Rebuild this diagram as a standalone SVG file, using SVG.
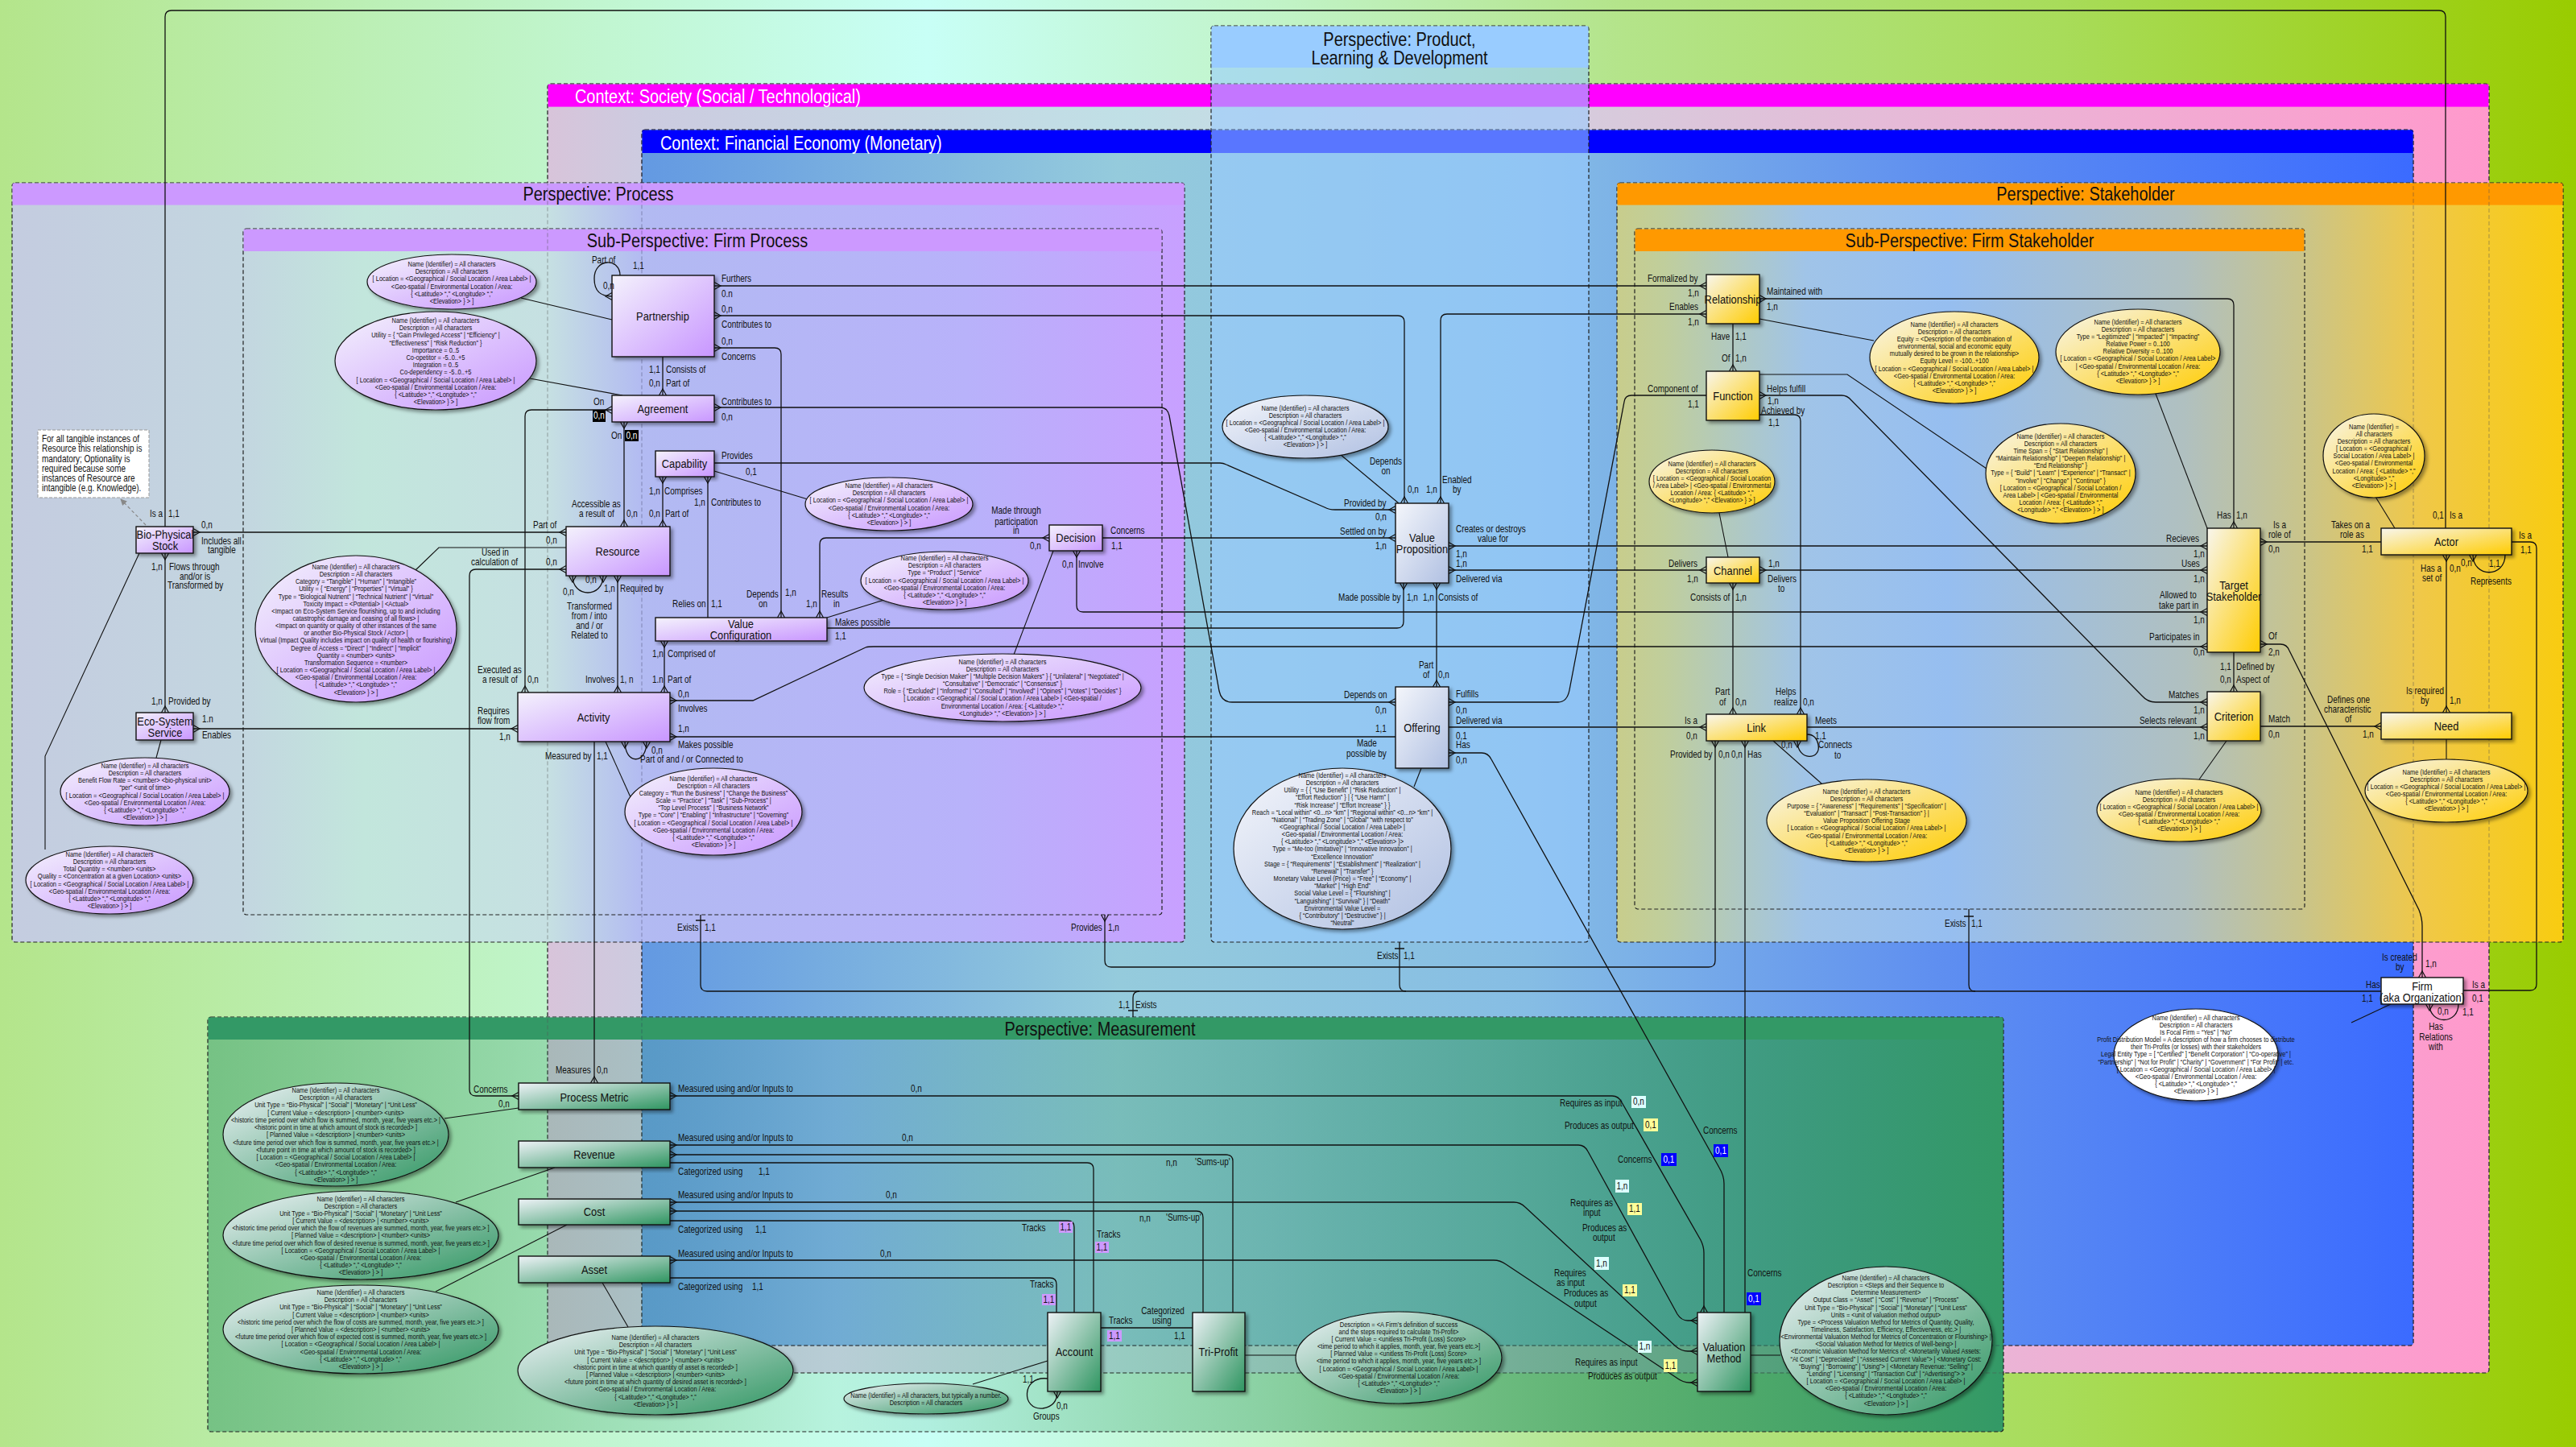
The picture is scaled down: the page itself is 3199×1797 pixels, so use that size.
<svg xmlns="http://www.w3.org/2000/svg" width="3199" height="1797" viewBox="0 0 3199 1797">
<defs>
<linearGradient id="bg" x1="0" y1="0" x2="1" y2="0"><stop offset="0" stop-color="#b4e58b"/><stop offset="0.36" stop-color="#c8fff6"/><stop offset="0.5" stop-color="#c1f3c6"/><stop offset="0.63" stop-color="#b4e48a"/><stop offset="0.8" stop-color="#a8dc5a"/><stop offset="1" stop-color="#99cc00"/></linearGradient>
<linearGradient id="gsoc" x1="0" y1="0" x2="1" y2="0"><stop offset="0" stop-color="#d8c4da"/><stop offset="0.05" stop-color="#cccbe0"/><stop offset="0.3" stop-color="#c0e0e6"/><stop offset="0.55" stop-color="#d8cadc"/><stop offset="0.75" stop-color="#ebb4d6"/><stop offset="1" stop-color="#ff99cc"/></linearGradient>
<linearGradient id="gfin" x1="0" y1="0" x2="1" y2="0"><stop offset="0" stop-color="#6399e2"/><stop offset="0.27" stop-color="#95cbdc"/><stop offset="0.5" stop-color="#86bde4"/><stop offset="0.73" stop-color="#5f8ff0"/><stop offset="1" stop-color="#3b6bff"/></linearGradient>
<linearGradient id="gproc" x1="0" y1="0" x2="1" y2="0"><stop offset="0" stop-color="#c4cce0"/><stop offset="0.196" stop-color="#c3d6e0"/><stop offset="0.3" stop-color="#c2e6dc"/><stop offset="0.457" stop-color="#c6e0e2"/><stop offset="0.539" stop-color="#b2baf2"/><stop offset="0.814" stop-color="#b8b2fa"/><stop offset="1" stop-color="#c8a0ff"/></linearGradient>
<linearGradient id="gstk" x1="0" y1="0" x2="1" y2="0"><stop offset="0" stop-color="#c8cd8c"/><stop offset="0.05" stop-color="#c0ce9c"/><stop offset="0.2" stop-color="#a0c4e8"/><stop offset="0.35" stop-color="#96bef0"/><stop offset="0.6" stop-color="#b0c0c0"/><stop offset="0.72" stop-color="#c8c48c"/><stop offset="0.85" stop-color="#f0c848"/><stop offset="1" stop-color="#f8cc10"/></linearGradient>
<linearGradient id="gmeas" x1="0" y1="0" x2="1" y2="0"><stop offset="0" stop-color="#339966" stop-opacity="0.5"/><stop offset="0.35" stop-color="#339966" stop-opacity="0.1"/><stop offset="0.6" stop-color="#339966" stop-opacity="0.4"/><stop offset="1" stop-color="#339966" stop-opacity="1"/></linearGradient>
<linearGradient id="nP" x1="0" y1="0" x2="1" y2="1"><stop offset="0" stop-color="#f4f2fc"/><stop offset="1" stop-color="#c896ff"/></linearGradient>
<linearGradient id="nB" x1="0" y1="0" x2="1" y2="1"><stop offset="0" stop-color="#f4f6fb"/><stop offset="1" stop-color="#b0c0e2"/></linearGradient>
<linearGradient id="nY" x1="0" y1="0" x2="1" y2="1"><stop offset="0" stop-color="#f8f6ee"/><stop offset="1" stop-color="#ffcc00"/></linearGradient>
<linearGradient id="nG" x1="0" y1="0" x2="1" y2="1"><stop offset="0" stop-color="#eef2f7"/><stop offset="1" stop-color="#2e9560"/></linearGradient>
<filter id="sh" x="-10%" y="-10%" width="130%" height="130%"><feDropShadow dx="3" dy="3" stdDeviation="2" flood-color="#000" flood-opacity="0.4"/></filter>
<marker id="cf" viewBox="-10 -6 12 12" refX="0" refY="0" markerWidth="12" markerHeight="12" markerUnits="userSpaceOnUse" orient="auto-start-reverse"><path d="M0,-4.5 L-8,0 L0,4.5" fill="none" stroke="#111" stroke-width="1.2"/></marker>
<marker id="ar" viewBox="0 0 10 10" refX="9" refY="5" markerWidth="8" markerHeight="8" markerUnits="userSpaceOnUse" orient="auto"><path d="M0,0 L10,5 L0,10 z" fill="#888"/></marker>
</defs>
<style>
text{font-family:"Liberation Sans",Arial,sans-serif;transform-box:fill-box;transform-origin:0 50%;transform:scaleX(0.83);}
text.m,text[text-anchor="middle"],.nt,.et,.bd text{transform-origin:50% 50%;}
.box{stroke:#222;stroke-width:1.2;stroke-dasharray:5 3;}
.hd{font-size:24px;}
.c{fill:none;stroke:#111;stroke-width:1.3;}
.s{marker-start:url(#cf);}
.e{marker-end:url(#cf);}
.ec{fill:none;stroke:#111;stroke-width:1.1;}
.n rect,.n ellipse{stroke:#111;stroke-width:1.4;filter:url(#sh);}
.at ellipse{stroke:#111;stroke-width:1.2;filter:url(#sh);}
.nt{font-size:15.5px;text-anchor:middle;fill:#111;}
.et{font-size:9px;text-anchor:middle;fill:#111;}
.lb text{font-size:12px;fill:#111;}
.m{text-anchor:middle;}
.bd text{font-size:12px;text-anchor:middle;}
</style>
<rect width="3199" height="1797" fill="url(#bg)"/>

<g id="containers">
<g id="ctx-society"><rect x="680" y="104" width="2411" height="1601" rx="4" fill="url(#gsoc)" class="box"/><rect x="680.6" y="104.6" width="2409.8" height="28" fill="#ff00ff"/><text x="714" y="128" class="hd" fill="#fff">Context: Society (Social / Technological)</text></g>
<g id="ctx-financial"><rect x="797" y="161" width="2200" height="1510" rx="4" fill="url(#gfin)" class="box"/><rect x="797.6" y="161.6" width="2198.8" height="28.4" fill="#0000ff"/><text x="820" y="186" class="hd" fill="#fff">Context: Financial Economy (Monetary)</text></g>
<g id="persp-process"><rect x="15" y="227" width="1456" height="943" rx="4" fill="url(#gproc)" class="box"/><rect x="15.6" y="227.6" width="1454.8" height="27" fill="#cc99ff"/><text x="743" y="249" class="hd m" fill="#111">Perspective: Process</text></g>
<g id="subpersp-process"><rect x="302" y="284" width="1141" height="852" rx="4" fill="none" class="box"/><rect x="302.6" y="284.6" width="1139.8" height="27.4" fill="#cc99ff"/><text x="866" y="307" class="hd m" fill="#111">Sub-Perspective:  Firm Process</text></g>
<g id="persp-stakeholder"><rect x="2008" y="227" width="1175" height="943" rx="4" fill="url(#gstk)" class="box"/><rect x="2008.6" y="227.6" width="1173.8" height="27" fill="#ff9900"/><text x="2590" y="249" class="hd m" fill="#111">Perspective: Stakeholder</text></g>
<g id="subpersp-stakeholder"><rect x="2030" y="284" width="832" height="845" rx="4" fill="none" class="box"/><rect x="2030.6" y="284.6" width="830.8" height="27.4" fill="#ff9900"/><text x="2446" y="307" class="hd m" fill="#111">Sub-Perspective:  Firm Stakeholder</text></g>
<g id="persp-product"><rect x="1504" y="32" width="469" height="1138" rx="4" fill="#99ccff" fill-opacity="0.58" class="box"/><rect x="1504.6" y="32.6" width="467.8" height="51.4" fill="#99ccff"/><text x="1738" y="57" class="hd m" fill="#111">Perspective: Product,</text><text x="1738" y="80" class="hd m" fill="#111">Learning &amp; Development</text></g>
<g id="persp-measurement"><rect x="258" y="1263" width="2230" height="515" rx="4" fill="url(#gmeas)" class="box"/><rect x="258.6" y="1263.6" width="2228.8" height="27.4" fill="#339966"/><text x="1366" y="1286" class="hd m" fill="#111">Perspective: Measurement</text></g>
<rect x="680" y="104" width="2411" height="1601" rx="4" fill="none" stroke="#555" stroke-opacity="0.5" stroke-width="1" stroke-dasharray="5 3"/>
<rect x="797" y="161" width="2200" height="1510" rx="4" fill="none" stroke="#335" stroke-opacity="0.4" stroke-width="1" stroke-dasharray="5 3"/>
</g>

<g id="note"><rect x="47" y="534" width="138" height="84" fill="#fff" stroke="#999" stroke-width="1" stroke-dasharray="4 2"/>
<text x="52" y="549" font-size="12" fill="#111"><tspan x="52">For all tangible instances of</tspan><tspan x="52" dy="12.3">Resource  this relationship is</tspan><tspan x="52" dy="12.3">mandatory;  Optionality is</tspan><tspan x="52" dy="12.3">required because some</tspan><tspan x="52" dy="12.3">instances of Resource are</tspan><tspan x="52" dy="12.3">intangible (e.g. Knowledge).</tspan></text></g>

<g id="connectors">
<path class="c s e" d="M887,355 H2119"/>
<path class="c s e" d="M887,392 H1736 Q1744,392 1744,400 V625"/>
<path class="c s e" d="M887,432 H962 Q970,432 970,440 V767"/>
<path class="c e" d="M770,342 C770,320 738,320 738,346 C738,364 748,368 760,368"/>
<path class="c e" d="M823,443 V491"/>
<path class="c s e" d="M887,506 H1440 Q1450,506 1452,516 L1514,858 Q1517,872 1530,872 H1733"/>
<path class="c s e" d="M760,509 H660 Q652,509 652,517 V860"/>
<path class="c s e" d="M775,524 V654"/>
<path class="c e" d="M887,575 H1515 Q1519,575 1523,577 L1645,630 Q1650,633 1658,633 H1733"/>
<path class="c s e" d="M823,592 V654"/>
<path class="c s" d="M879,592 V767"/>
<path class="c s e" d="M1018,767 V676 Q1018,668 1026,668 H1303"/>
<path class="c e" d="M1027,780 H1735 Q1743,780 1743,772 V724"/>
<path class="c s e" d="M825,796 V860"/>
<path class="c e" d="M1369,668 H1733"/>
<path class="c s e" d="M1337,684 V752 Q1337,760 1345,760 H2741"/>
<path class="c s e" d="M832,870 H935 L1075,804 Q1078,803 1085,803 H2741"/>
<path class="c s" d="M832,915 H1733"/>
<path class="c s e" d="M776,921 C776,950 803,950 803,921"/>
<path class="c s e" d="M711,715 C711,743 749,743 749,715"/>
<path class="c s e" d="M767,715 V860"/>
<path class="c s e" d="M703,707 H591 Q583,707 583,715 V1353 Q583,1361 591,1361 H644"/>
<path class="c s e" d="M240,661 H703"/>
<path class="c s e" d="M205,687 V885"/>
<path class="c s e" d="M240,905 H643"/>
<path class="c e" d="M738,921 V1345"/>
<path class="c" d="M205,654 V21 Q205,13 213,13 H3029 Q3037,13 3037,21 V656"/>
<path class="c" d="M3119,673 H3142 Q3150,673 3150,681 V1222 Q3150,1230 3142,1230 H3059"/>
<path class="c e" d="M2957,673 H2807"/>
<path class="c s e" d="M3038,689 V885"/>
<path class="c s" d="M3071,689 C3071,718 3111,718 3111,689"/>
<path class="c s e" d="M2774,656 V379 Q2774,371 2766,371 H2185"/>
<path class="c e" d="M2774,810 V859"/>
<path class="c s e" d="M2807,800 H2832 Q2840,800 2843,808 L3004,1130 Q3008,1140 3008,1150 V1214"/>
<path class="c e" d="M2807,902 H2957"/>
<path class="c s e" d="M1799,678 H2741"/>
<path class="c s e" d="M1799,708 H2119"/>
<path class="c s e" d="M2185,708 H2741"/>
<path class="c s e" d="M2152,724 V887"/>
<path class="c s e" d="M2119,390 H1797 Q1789,390 1789,398 V625"/>
<path class="c e" d="M2152,402 V461"/>
<path class="c e" d="M2119,491 H2026 Q2018,491 2017,499 L1949,857 Q1946,872 1935,872 H1799"/>
<path class="c s e" d="M2185,491 H2287 Q2294,491 2299,497 L2660,864 Q2667,872 2677,872 H2741"/>
<path class="c e" d="M2185,515 H2228 Q2236,515 2236,523 V887"/>
<path class="c e" d="M2244,903 H2741"/>
<path class="c s" d="M2232,920 C2232,946 2262,944 2258,925 C2256,914 2250,912 2244,912"/>
<path class="c e" d="M1799,903 H2119"/>
<path class="c s" d="M1799,935 H1840 Q1848,935 1852,943 L2135,1450 Q2141,1460 2141,1470 V1630"/>
<path class="c s e" d="M1784,724 V853"/>
<path class="c s" d="M2167,920 V1630"/>
<path class="c s e" d="M2130,920 V1193 Q2130,1201 2122,1201 H1380 Q1372,1201 1372,1193 V1136"/>
<path class="c" d="M870,1136 V1223 Q870,1231 878,1231 H2957"/>
<path class="c" d="M1738,1170 V1223 Q1738,1231 1746,1231"/>
<path class="c" d="M2445,1129 V1223 Q2445,1231 2453,1231"/>
<path class="c" d="M1407,1263 V1239 Q1407,1231 1415,1231"/>
<path class="c" d="M864,1143 H876 M1732,1178 H1744 M2439,1138 H2451 M1401,1255 H1413"/>
<path class="c s" d="M3017,1247 C3017,1273 3053,1273 3053,1247"/>
<path class="c s e" d="M832,1361 H2002 Q2010,1361 2014,1369 L2112,1540 Q2116,1548 2116,1556 V1630"/>
<path class="c s e" d="M832,1422 H1960 Q1968,1422 1972,1430 L2083,1632 Q2088,1640 2096,1640 H2108"/>
<path class="c s" d="M832,1434 H1523 Q1531,1434 1531,1442 V1630"/>
<path class="c" d="M832,1444 H1350 Q1358,1444 1358,1452 V1630"/>
<path class="c s e" d="M832,1493 H1880 Q1888,1493 1894,1499 L2081,1672 Q2088,1678 2096,1678 H2108"/>
<path class="c s" d="M832,1504 H1486 Q1494,1504 1494,1512 V1630"/>
<path class="c" d="M832,1516 H1326 Q1334,1516 1334,1524 V1630"/>
<path class="c s e" d="M832,1565 H1855 Q1863,1565 1870,1570 L2082,1711 Q2090,1717 2098,1717 H2108"/>
<path class="c" d="M832,1587 H1304 Q1312,1587 1312,1595 V1630"/>
<path class="c" d="M1367,1649 H1481"/>
<path class="c e" d="M1301,1712 C1268,1708 1268,1752 1295,1749 C1308,1747 1313,1740 1313,1728"/>
<path d="M181,652 L150,620" fill="none" stroke="#888" stroke-width="1.2" stroke-dasharray="4 3" marker-end="url(#ar)"/>
<g id="attr-links">
<path class="ec" d="M647,370 L760,397"/>
<path class="ec" d="M658,470 L773,491"/>
<path class="ec" d="M887,585 L1003,620"/>
<path class="ec" d="M1098,745 L1027,767"/>
<path class="ec" d="M1308,684 L1259,813"/>
<path class="ec" d="M516,708 L545,680 H703"/>
<path class="ec" d="M173,687 L56,939 V1055"/>
<path class="ec" d="M200,919 L194,941"/>
<path class="ec" d="M752,921 L783,990"/>
<path class="ec" d="M1664,564 L1737,625"/>
<path class="ec" d="M2185,396 L2327,423"/>
<path class="ec" d="M2677,489 L2741,656"/>
<path class="ec" d="M2185,465 H2294 L2470,584"/>
<path class="ec" d="M2135,637 L2146,692"/>
<path class="ec" d="M2202,920 L2262,973"/>
<path class="ec" d="M2765,920 L2731,968"/>
<path class="ec" d="M3038,918 V944"/>
<path class="ec" d="M2950,617 L2974,656"/>
<path class="ec" d="M2920,1270 L2969,1247"/>
<path class="ec" d="M552,1389 L644,1376"/>
<path class="ec" d="M566,1493 L689,1450"/>
<path class="ec" d="M541,1604 L704,1521"/>
<path class="ec" d="M748,1593 L780,1648"/>
<path class="ec" d="M1208,1719 L1301,1690"/>
<path class="ec" d="M1546,1683 H1609"/>
<path class="ec" d="M2174,1683 H2211"/>
<path class="ec" d="M1765,954 L1756,977"/>
</g>
</g>

<g id="attributes" class="at">
<g id="attr-partnership"><ellipse cx="561" cy="350" rx="105" ry="34" fill="url(#nP)"/><text class="et" y="331"><tspan x="561">Name (Identifier) = All characters</tspan><tspan x="561" dy="9.2">Description = All characters</tspan><tspan x="561" dy="9.2">[ Location = &lt;Geographical / Social Location / Area Label&gt; |</tspan><tspan x="561" dy="9.2">&lt;Geo-spatial / Environmental Location / Area:</tspan><tspan x="561" dy="9.2">{ &lt;Latitude&gt; “,” &lt;Longitude&gt; “,”</tspan><tspan x="561" dy="9.2">&lt;Elevation&gt; } &gt; ]</tspan></text></g>
<g id="attr-agreement"><ellipse cx="541" cy="448" rx="125" ry="61" fill="url(#nP)"/><text class="et" y="401"><tspan x="541">Name (Identifier) = All characters</tspan><tspan x="541" dy="9.2">Description = All characters</tspan><tspan x="541" dy="9.2">Utility = { “Gain Privileged Access” | “Efficiency” |</tspan><tspan x="541" dy="9.2">“Effectiveness” | “Risk Reduction” }</tspan><tspan x="541" dy="9.2">Importance = 0..5</tspan><tspan x="541" dy="9.2">Co-opetitor = -5..0..+5</tspan><tspan x="541" dy="9.2">Integration = 0..5</tspan><tspan x="541" dy="9.2">Co-dependency = -5..0..+5</tspan><tspan x="541" dy="9.2">[ Location = &lt;Geographical / Social Location / Area Label&gt; |</tspan><tspan x="541" dy="9.2">&lt;Geo-spatial / Environmental Location / Area:</tspan><tspan x="541" dy="9.2">{ &lt;Latitude&gt; “,” &lt;Longitude&gt; “,”</tspan><tspan x="541" dy="9.2">&lt;Elevation&gt; } &gt; ]</tspan></text></g>
<g id="attr-capability"><ellipse cx="1104" cy="626" rx="104" ry="33" fill="url(#nP)"/><text class="et" y="606"><tspan x="1104">Name (Identifier) = All characters</tspan><tspan x="1104" dy="9.2">Description = All characters</tspan><tspan x="1104" dy="9.2">[ Location = &lt;Geographical / Social Location / Area Label&gt; |</tspan><tspan x="1104" dy="9.2">&lt;Geo-spatial / Environmental Location / Area:</tspan><tspan x="1104" dy="9.2">{ &lt;Latitude&gt; “,” &lt;Longitude&gt; “,”</tspan><tspan x="1104" dy="9.2">&lt;Elevation&gt; } &gt; ]</tspan></text></g>
<g id="attr-valueconfig"><ellipse cx="1173" cy="721" rx="104" ry="36" fill="url(#nP)"/><text class="et" y="696"><tspan x="1173">Name (Identifier) = All characters</tspan><tspan x="1173" dy="9.2">Description = All characters</tspan><tspan x="1173" dy="9.2">Type = “Product” | “Service”</tspan><tspan x="1173" dy="9.2">[ Location = &lt;Geographical / Social Location / Area Label&gt; |</tspan><tspan x="1173" dy="9.2">&lt;Geo-spatial / Environmental Location / Area:</tspan><tspan x="1173" dy="9.2">{ &lt;Latitude&gt; “,” &lt;Longitude&gt; “,”</tspan><tspan x="1173" dy="9.2">&lt;Elevation&gt; } &gt; ]</tspan></text></g>
<g id="attr-decision"><ellipse cx="1245" cy="854" rx="172" ry="42" fill="url(#nP)"/><text class="et" y="825"><tspan x="1245">Name (Identifier) = All characters</tspan><tspan x="1245" dy="9.1">Description = All characters</tspan><tspan x="1245" dy="9.1">Type = { “Single Decision Maker” | “Multiple Decision Makers” } { “Unilateral” | “Negotiated” |</tspan><tspan x="1245" dy="9.1">“Consultative” | “Democratic” | “Consensus” }</tspan><tspan x="1245" dy="9.1">Role = { “Excluded” | “Informed” | “Consulted” | “Involved” | “Opines” | “Votes” | “Decides” }</tspan><tspan x="1245" dy="9.1">[ Location = &lt;Geographical / Social Location / Area Label&gt; | &lt;Geo-spatial /</tspan><tspan x="1245" dy="9.1">Environmental Location / Area: { &lt;Latitude&gt; “,”</tspan><tspan x="1245" dy="9.1">&lt;Longitude&gt; “,” &lt;Elevation&gt; } &gt; ]</tspan></text></g>
<g id="attr-resource"><ellipse cx="442" cy="781" rx="125" ry="91" fill="url(#nP)"/><text class="et" y="707"><tspan x="442">Name (Identifier) = All characters</tspan><tspan x="442" dy="9.15">Description = All characters</tspan><tspan x="442" dy="9.15">Category = “Tangible” | “Human” | “Intangible”</tspan><tspan x="442" dy="9.15">Utility = { “Energy” | “Properties” | “Virtual” }</tspan><tspan x="442" dy="9.15">Type = “Biological Nutrient” | “Technical Nutrient”  | “Virtual”</tspan><tspan x="442" dy="9.15">Toxicity Impact = &lt;Potential&gt; | &lt;Actual&gt;</tspan><tspan x="442" dy="9.15">&lt;Impact on Eco-System Service flourishing, up to and including</tspan><tspan x="442" dy="9.15">catastrophic damage and ceasing of all flows&gt; |</tspan><tspan x="442" dy="9.15">&lt;Impact on quantity or quality of other instances of the same</tspan><tspan x="442" dy="9.15">or another Bio-Physical Stock / Actor&gt; |</tspan><tspan x="442" dy="9.15">Virtual (Impact Quality includes impact on quality of health or flourishing)</tspan><tspan x="442" dy="9.15">Degree of Access = “Direct” | “Indirect” | “Implicit”</tspan><tspan x="442" dy="9.15">Quantity =  &lt;number&gt; &lt;units&gt;</tspan><tspan x="442" dy="9.15">Transformation Sequence = &lt;number&gt;</tspan><tspan x="442" dy="9.15">[ Location = &lt;Geographical / Social Location / Area Label&gt; |</tspan><tspan x="442" dy="9.15">&lt;Geo-spatial / Environmental Location / Area:</tspan><tspan x="442" dy="9.15">{ &lt;Latitude&gt; “,” &lt;Longitude&gt; “,”</tspan><tspan x="442" dy="9.15">&lt;Elevation&gt; } &gt; ]</tspan></text></g>
<g id="attr-biophysical"><ellipse cx="136" cy="1093" rx="104" ry="42" fill="url(#nP)"/><text class="et" y="1064"><tspan x="136">Name (Identifier) = All characters</tspan><tspan x="136" dy="9.15">Description = All characters</tspan><tspan x="136" dy="9.15">Total Quantity = &lt;number&gt; &lt;units&gt;</tspan><tspan x="136" dy="9.15">Quality = &lt;Concentration at a given Location&gt; &lt;units&gt;</tspan><tspan x="136" dy="9.15">[ Location = &lt;Geographical / Social Location / Area Label&gt; |</tspan><tspan x="136" dy="9.15">&lt;Geo-spatial / Environmental Location / Area:</tspan><tspan x="136" dy="9.15">{ &lt;Latitude&gt; “,” &lt;Longitude&gt; “,”</tspan><tspan x="136" dy="9.15">&lt;Elevation&gt; } &gt; ]</tspan></text></g>
<g id="attr-ecosystem"><ellipse cx="180" cy="983" rx="105" ry="42" fill="url(#nP)"/><text class="et" y="954"><tspan x="180">Name (Identifier) = All characters</tspan><tspan x="180" dy="9.15">Description = All characters</tspan><tspan x="180" dy="9.15">Benefit Flow Rate = &lt;number&gt; &lt;bio-physical unit&gt;</tspan><tspan x="180" dy="9.15">“per” &lt;unit of time&gt;</tspan><tspan x="180" dy="9.15">[ Location = &lt;Geographical / Social Location / Area Label&gt; |</tspan><tspan x="180" dy="9.15">&lt;Geo-spatial / Environmental Location / Area:</tspan><tspan x="180" dy="9.15">{ &lt;Latitude&gt; “,” &lt;Longitude&gt; “,”</tspan><tspan x="180" dy="9.15">&lt;Elevation&gt; } &gt; ]</tspan></text></g>
<g id="attr-activity"><ellipse cx="886" cy="1008" rx="110" ry="54" fill="url(#nP)"/><text class="et" y="970"><tspan x="886">Name (Identifier) = All characters</tspan><tspan x="886" dy="9.1">Description = All characters</tspan><tspan x="886" dy="9.1">Category = “Run the Business” | “Change the Business”</tspan><tspan x="886" dy="9.1">Scale = “Practice” | “Task” | “Sub-Process” |</tspan><tspan x="886" dy="9.1">“Top Level Process” | “Business Network”</tspan><tspan x="886" dy="9.1">Type = “Core” | “Enabling” | “Infrastructure” | “Governing”</tspan><tspan x="886" dy="9.1">[ Location = &lt;Geographical / Social Location / Area Label&gt; |</tspan><tspan x="886" dy="9.1">&lt;Geo-spatial / Environmental Location / Area:</tspan><tspan x="886" dy="9.1">{ &lt;Latitude&gt; “,” &lt;Longitude&gt; “,”</tspan><tspan x="886" dy="9.1">&lt;Elevation&gt; } &gt; ]</tspan></text></g>
<g id="attr-valueprop"><ellipse cx="1621" cy="530" rx="103" ry="39" fill="url(#nB)"/><text class="et" y="510"><tspan x="1621">Name (Identifier) = All characters</tspan><tspan x="1621" dy="9.1">Description = All characters</tspan><tspan x="1621" dy="9.1">[ Location = &lt;Geographical / Social Location / Area Label&gt; |</tspan><tspan x="1621" dy="9.1">&lt;Geo-spatial / Environmental Location / Area:</tspan><tspan x="1621" dy="9.1">{ &lt;Latitude&gt; “,” &lt;Longitude&gt; “,”</tspan><tspan x="1621" dy="9.1">&lt;Elevation&gt; } &gt; ]</tspan></text></g>
<g id="attr-offering"><ellipse cx="1667" cy="1054" rx="135" ry="100" fill="url(#nB)"/><text class="et" y="966"><tspan x="1667">Name (Identifier) = All characters</tspan><tspan x="1667" dy="9.15">Description = All characters</tspan><tspan x="1667" dy="9.15">Utility = { { “Use Benefit” | “Risk Reduction” |</tspan><tspan x="1667" dy="9.15">“Effort Reduction” } | { “Use Harm” |</tspan><tspan x="1667" dy="9.15">“Risk Increase” | “Effort Increase” } }</tspan><tspan x="1667" dy="9.15">Reach = “Local within” &lt;0...n&gt; “km” | “Regional within” &lt;0...n&gt; “km” |</tspan><tspan x="1667" dy="9.15">“National” | “Trading Zone” | “Global” “with respect to”</tspan><tspan x="1667" dy="9.15">&lt;Geographical / Social Location / Area Label&gt; |</tspan><tspan x="1667" dy="9.15">&lt;Geo-spatial / Environmental Location / Area:</tspan><tspan x="1667" dy="9.15">{ &lt;Latitude&gt; “,” &lt;Longitude&gt; “,” &lt;Elevation&gt; }&gt;</tspan><tspan x="1667" dy="9.15">Type = “Me-too (Imitative)” | “Innovative Innovation” |</tspan><tspan x="1667" dy="9.15">“Excellence Innovation”</tspan><tspan x="1667" dy="9.15">Stage = { “Requirements” | “Establishment” | “Realization” |</tspan><tspan x="1667" dy="9.15">“Renewal” | “Transfer” }</tspan><tspan x="1667" dy="9.15">Monetary Value Level (Price) = “Free” | “Economy” |</tspan><tspan x="1667" dy="9.15">“Market” | “High End”</tspan><tspan x="1667" dy="9.15">Social Value Level = { “Flourishing” |</tspan><tspan x="1667" dy="9.15">“Languishing” | “Survival” } | “Death”</tspan><tspan x="1667" dy="9.15">Environmental Value Level =</tspan><tspan x="1667" dy="9.15">{ “Contributory” |  “Destructive” } |</tspan><tspan x="1667" dy="9.15">“Neutral”</tspan></text></g>
<g id="attr-relationship"><ellipse cx="2427" cy="444" rx="105" ry="57" fill="url(#nY)"/><text class="et" y="406"><tspan x="2427">Name (Identifier) = All characters</tspan><tspan x="2427" dy="9.1">Description = All characters</tspan><tspan x="2427" dy="9.1">Equity = &lt;Description of the combination of</tspan><tspan x="2427" dy="9.1">environmental, social and economic equity</tspan><tspan x="2427" dy="9.1">mutually desired to be grown in the relationship&gt;</tspan><tspan x="2427" dy="9.1">Equity Level = -100..+100</tspan><tspan x="2427" dy="9.1">[ Location = &lt;Geographical / Social Location / Area Label&gt; |</tspan><tspan x="2427" dy="9.1">&lt;Geo-spatial / Environmental Location / Area:</tspan><tspan x="2427" dy="9.1">{ &lt;Latitude&gt; “,” &lt;Longitude&gt; “,”</tspan><tspan x="2427" dy="9.1">&lt;Elevation&gt; } &gt; ]</tspan></text></g>
<g id="attr-targetstakeholder"><ellipse cx="2655" cy="437" rx="102" ry="53" fill="url(#nY)"/><text class="et" y="403"><tspan x="2655">Name (Identifier) = All characters</tspan><tspan x="2655" dy="9.1">Description = All characters</tspan><tspan x="2655" dy="9.1">Type = “Legitimized” | “Impacted” | “Impacting”</tspan><tspan x="2655" dy="9.1">Relative Power = 0..100</tspan><tspan x="2655" dy="9.1">Relative Diversity = 0..100</tspan><tspan x="2655" dy="9.1">[ Location = &lt;Geographical / Social Location / Area Label&gt;</tspan><tspan x="2655" dy="9.1">| &lt;Geo-spatial / Environmental Location / Area:</tspan><tspan x="2655" dy="9.1">{ &lt;Latitude&gt; “,” &lt;Longitude&gt; “,”</tspan><tspan x="2655" dy="9.1">&lt;Elevation&gt; } &gt; ]</tspan></text></g>
<g id="attr-function"><ellipse cx="2559" cy="588" rx="93" ry="62" fill="url(#nY)"/><text class="et" y="545"><tspan x="2559">Name (Identifier) = All characters</tspan><tspan x="2559" dy="9.1">Description = All characters</tspan><tspan x="2559" dy="9.1">Time Span  = { “Start Relationship” |</tspan><tspan x="2559" dy="9.1">“Maintain Relationship” | “Deepen Relationship” |</tspan><tspan x="2559" dy="9.1">“End Relationship” }</tspan><tspan x="2559" dy="9.1">Type = { “Build” | “Learn” | “Experience” | “Transact” |</tspan><tspan x="2559" dy="9.1">“Involve” | “Change” | “Continue” }</tspan><tspan x="2559" dy="9.1">[ Location = &lt;Geographical / Social Location /</tspan><tspan x="2559" dy="9.1">Area Label&gt; | &lt;Geo-spatial / Environmental</tspan><tspan x="2559" dy="9.1">Location / Area: { &lt;Latitude&gt; “,”</tspan><tspan x="2559" dy="9.1">&lt;Longitude&gt; “,” &lt;Elevation&gt; } &gt; ]</tspan></text></g>
<g id="attr-channel"><ellipse cx="2126" cy="598" rx="78" ry="39" fill="url(#nY)"/><text class="et" y="579"><tspan x="2126">Name (Identifier) = All characters</tspan><tspan x="2126" dy="9">Description = All characters</tspan><tspan x="2126" dy="9">[ Location = &lt;Geographical / Social Location</tspan><tspan x="2126" dy="9">/ Area Label&gt; | &lt;Geo-spatial / Environmental</tspan><tspan x="2126" dy="9">Location / Area: { &lt;Latitude&gt; “,”</tspan><tspan x="2126" dy="9">&lt;Longitude&gt; “,” &lt;Elevation&gt; } &gt; ]</tspan></text></g>
<g id="attr-link"><ellipse cx="2318" cy="1019" rx="124" ry="51" fill="url(#nY)"/><text class="et" y="986"><tspan x="2318">Name (Identifier) = All characters</tspan><tspan x="2318" dy="9.1">Description = All characters</tspan><tspan x="2318" dy="9.1">Purpose = { “Awareness” | “Requirements” | “Specification” |</tspan><tspan x="2318" dy="9.1">“Evaluation” | “Transact” | “Post-Transaction” } |</tspan><tspan x="2318" dy="9.1">Value Proposition Offering Stage</tspan><tspan x="2318" dy="9.1">[ Location = &lt;Geographical / Social Location / Area Label&gt; |</tspan><tspan x="2318" dy="9.1">&lt;Geo-spatial / Environmental Location / Area:</tspan><tspan x="2318" dy="9.1">{ &lt;Latitude&gt; “,” &lt;Longitude&gt; “,”</tspan><tspan x="2318" dy="9.1">&lt;Elevation&gt; } &gt; ]</tspan></text></g>
<g id="attr-criterion"><ellipse cx="2706" cy="1006" rx="102" ry="39" fill="url(#nY)"/><text class="et" y="987"><tspan x="2706">Name (Identifier) = All characters</tspan><tspan x="2706" dy="9.1">Description = All characters</tspan><tspan x="2706" dy="9.1">[ Location = &lt;Geographical / Social Location / Area Label&gt; |</tspan><tspan x="2706" dy="9.1">&lt;Geo-spatial / Environmental Location / Area:</tspan><tspan x="2706" dy="9.1">{ &lt;Latitude&gt; “,” &lt;Longitude&gt; “,”</tspan><tspan x="2706" dy="9.1">&lt;Elevation&gt; } &gt; ]</tspan></text></g>
<g id="attr-need"><ellipse cx="3038" cy="982" rx="101" ry="39" fill="url(#nY)"/><text class="et" y="962"><tspan x="3038">Name (Identifier) = All characters</tspan><tspan x="3038" dy="9.1">Description = All characters</tspan><tspan x="3038" dy="9.1">[ Location = &lt;Geographical / Social Location / Area Label&gt; |</tspan><tspan x="3038" dy="9.1">&lt;Geo-spatial / Environmental Location / Area:</tspan><tspan x="3038" dy="9.1">{ &lt;Latitude&gt; “,” &lt;Longitude&gt; “,”</tspan><tspan x="3038" dy="9.1">&lt;Elevation&gt; } &gt; ]</tspan></text></g>
<g id="attr-actor"><ellipse cx="2948" cy="566" rx="63" ry="52" fill="url(#nY)"/><text class="et" y="533"><tspan x="2948">Name (Identifier) =</tspan><tspan x="2948" dy="9.1">All characters</tspan><tspan x="2948" dy="9.1">Description = All characters</tspan><tspan x="2948" dy="9.1">[ Location = &lt;Geographical /</tspan><tspan x="2948" dy="9.1">Social Location / Area Label&gt; |</tspan><tspan x="2948" dy="9.1">&lt;Geo-spatial / Environmental</tspan><tspan x="2948" dy="9.1">Location / Area: { &lt;Latitude&gt; “,”</tspan><tspan x="2948" dy="9.1">&lt;Longitude&gt; “,”</tspan><tspan x="2948" dy="9.1">&lt;Elevation&gt; } &gt; ]</tspan></text></g>
<g id="attr-firm"><ellipse cx="2727" cy="1310" rx="102" ry="57" fill="#fff"/><text class="et" y="1267"><tspan x="2727">Name (Identifier) = All characters</tspan><tspan x="2727" dy="9.1">Description = All characters</tspan><tspan x="2727" dy="9.1">Is Focal Firm = “Yes” | “No”</tspan><tspan x="2727" dy="9.1">Profit Distribution Model = A description of how a firm chooses to distribute</tspan><tspan x="2727" dy="9.1">their Tri-Profits (or losses) with their stakeholders</tspan><tspan x="2727" dy="9.1">Legal Entity Type = [ “Certified” ] “Benefit Corporation” | “Co-operative” |</tspan><tspan x="2727" dy="9.1">“Partnership” | “Not for Profit” | “Charity” | “Government” | “For Profit” | etc.</tspan><tspan x="2727" dy="9.1">[ Location = &lt;Geographical / Social Location / Area Label&gt; |</tspan><tspan x="2727" dy="9.1">&lt;Geo-spatial / Environmental Location / Area:</tspan><tspan x="2727" dy="9.1">{ &lt;Latitude&gt; “,” &lt;Longitude&gt; “,”</tspan><tspan x="2727" dy="9.1">&lt;Elevation&gt; } &gt; ]</tspan></text></g>
<g id="attr-processmetric"><ellipse cx="417" cy="1409" rx="140" ry="64" fill="url(#nG)"/><text class="et" y="1357"><tspan x="417">Name (Identifier) = All characters</tspan><tspan x="417" dy="9.25">Description = All characters</tspan><tspan x="417" dy="9.25">Unit Type = “Bio-Physical” | “Social” | “Monetary” | “Unit Less”</tspan><tspan x="417" dy="9.25">[ Current Value = &lt;description&gt; | &lt;number&gt; &lt;units&gt;</tspan><tspan x="417" dy="9.25">&lt;historic time period over which flow is summed, month, year, five years etc.&gt; |</tspan><tspan x="417" dy="9.25">&lt;historic point in time at which amount of stock is recorded&gt;  ]</tspan><tspan x="417" dy="9.25">[ Planned Value  = &lt;description&gt; | &lt;number&gt; &lt;units&gt;</tspan><tspan x="417" dy="9.25">&lt;future time period over which flow is summed, month, year, five years etc.&gt; |</tspan><tspan x="417" dy="9.25">&lt;future point in time at which amount of stock is recorded&gt; ]</tspan><tspan x="417" dy="9.25">[ Location = &lt;Geographical / Social Location / Area Label&gt; |</tspan><tspan x="417" dy="9.25">&lt;Geo-spatial / Environmental Location / Area:</tspan><tspan x="417" dy="9.25">{ &lt;Latitude&gt; “,” &lt;Longitude&gt; “,”</tspan><tspan x="417" dy="9.25">&lt;Elevation&gt; } &gt; ]</tspan></text></g>
<g id="attr-revenue"><ellipse cx="448" cy="1534" rx="171" ry="55" fill="url(#nG)"/><text class="et" y="1492"><tspan x="448">Name (Identifier) = All characters</tspan><tspan x="448" dy="9.1">Description = All characters</tspan><tspan x="448" dy="9.1">Unit Type = “Bio-Physical” | “Social” | “Monetary” | “Unit Less”</tspan><tspan x="448" dy="9.1">[ Current Value = &lt;description&gt; | &lt;number&gt; &lt;units&gt;</tspan><tspan x="448" dy="9.1">&lt;historic time period over which the flow of revenues are summed, month, year, five years etc.&gt; ]</tspan><tspan x="448" dy="9.1">[ Planned Value  = &lt;description&gt; | &lt;number&gt; &lt;units&gt;</tspan><tspan x="448" dy="9.1">&lt;future time period over which flow of desired revenue is summed, month, year, five years etc.&gt; ]</tspan><tspan x="448" dy="9.1">[ Location = &lt;Geographical / Social Location / Area Label&gt; |</tspan><tspan x="448" dy="9.1">&lt;Geo-spatial / Environmental Location / Area:</tspan><tspan x="448" dy="9.1">{ &lt;Latitude&gt; “,” &lt;Longitude&gt; “,”</tspan><tspan x="448" dy="9.1">&lt;Elevation&gt; } &gt; ]</tspan></text></g>
<g id="attr-cost"><ellipse cx="448" cy="1651" rx="171" ry="55" fill="url(#nG)"/><text class="et" y="1608"><tspan x="448">Name (Identifier) = All characters</tspan><tspan x="448" dy="9.2">Description = All characters</tspan><tspan x="448" dy="9.2">Unit Type = “Bio-Physical” | “Social” | “Monetary” | “Unit Less”</tspan><tspan x="448" dy="9.2">[ Current Value = &lt;description&gt; | &lt;number&gt; &lt;units&gt;</tspan><tspan x="448" dy="9.2">&lt;historic time period over which the flow of costs are summed, month, year, five years etc.&gt; ]</tspan><tspan x="448" dy="9.2">[ Planned Value  = &lt;description&gt; | &lt;number&gt; &lt;units&gt;</tspan><tspan x="448" dy="9.2">&lt;future time period over which flow of expected cost is summed, month, year, five years etc.&gt; ]</tspan><tspan x="448" dy="9.2">[ Location = &lt;Geographical / Social Location / Area Label&gt; |</tspan><tspan x="448" dy="9.2">&lt;Geo-spatial / Environmental Location / Area:</tspan><tspan x="448" dy="9.2">{ &lt;Latitude&gt; “,” &lt;Longitude&gt; “,”</tspan><tspan x="448" dy="9.2">&lt;Elevation&gt; } &gt; ]</tspan></text></g>
<g id="attr-asset"><ellipse cx="814" cy="1702" rx="171" ry="55" fill="url(#nG)"/><text class="et" y="1664"><tspan x="814">Name (Identifier) = All characters</tspan><tspan x="814" dy="9.2">Description = All characters</tspan><tspan x="814" dy="9.2">Unit Type = “Bio-Physical” | “Social” | “Monetary” | “Unit Less”</tspan><tspan x="814" dy="9.2">[ Current Value = &lt;description&gt; | &lt;number&gt; &lt;units&gt;</tspan><tspan x="814" dy="9.2">&lt;historic point in time at which quantity of asset is recorded&gt; ]</tspan><tspan x="814" dy="9.2">[ Planned Value  = &lt;description&gt; | &lt;number&gt; &lt;units&gt;</tspan><tspan x="814" dy="9.2">&lt;future point in time at which quantity of desired asset is recorded&gt; ]</tspan><tspan x="814" dy="9.2">&lt;Geo-spatial / Environmental Location / Area:</tspan><tspan x="814" dy="9.2">{ &lt;Latitude&gt; “,” &lt;Longitude&gt; “,”</tspan><tspan x="814" dy="9.2">&lt;Elevation&gt; } &gt; ]</tspan></text></g>
<g id="attr-account"><ellipse cx="1150" cy="1737" rx="102" ry="19" fill="url(#nG)"/><text class="et" y="1736"><tspan x="1150">Name (Identifier) = All characters, but typically a number.</tspan><tspan x="1150" dy="9.2">Description = All characters</tspan></text></g>
<g id="attr-triprofit"><ellipse cx="1737" cy="1686" rx="128" ry="57" fill="url(#nG)"/><text class="et" y="1648"><tspan x="1737">Description = &lt;A Firm’s definition of success</tspan><tspan x="1737" dy="9.1">and the steps required to calculate Tri-Profit&gt;</tspan><tspan x="1737" dy="9.1">[ Current Value = &lt;unitless Tri-Profit (Loss) Score&gt;</tspan><tspan x="1737" dy="9.1">&lt;time period to which it applies, month, year, five years etc.&gt;]</tspan><tspan x="1737" dy="9.1">[ Planned Value  = &lt;unitless Tri-Profit (Loss) Score&gt;</tspan><tspan x="1737" dy="9.1">&lt;time period to which it applies, month, year, five years etc.&gt; ]</tspan><tspan x="1737" dy="9.1">[ Location = &lt;Geographical / Social Location / Area Label&gt; |</tspan><tspan x="1737" dy="9.1">&lt;Geo-spatial / Environmental Location / Area:</tspan><tspan x="1737" dy="9.1">{ &lt;Latitude&gt; “,” &lt;Longitude&gt; “,”</tspan><tspan x="1737" dy="9.1">&lt;Elevation&gt; } &gt; ]</tspan></text></g>
<g id="attr-valuation"><ellipse cx="2342" cy="1665" rx="132" ry="92" fill="url(#nG)"/><text class="et" y="1590"><tspan x="2342">Name (Identifier) = All characters</tspan><tspan x="2342" dy="9.15">Description = &lt;Steps and their Sequence to</tspan><tspan x="2342" dy="9.15">Determine Measurement&gt;</tspan><tspan x="2342" dy="9.15">Output Class = “Asset” | “Cost” | “Revenue” | “Process”</tspan><tspan x="2342" dy="9.15">Unit Type = “Bio-Physical” | “Social” | “Monetary” | “Unit Less”</tspan><tspan x="2342" dy="9.15">Units = &lt;unit of valuation method output&gt;</tspan><tspan x="2342" dy="9.15">Type = &lt;Process Valuation Method for Metrics of Quantity, Quality,</tspan><tspan x="2342" dy="9.15">Timeliness, Satisfaction, Efficiency, Effectiveness, etc.&gt; |</tspan><tspan x="2342" dy="9.15">&lt;Environmental Valuation Method for Metrics of Concentration or Flourishing&gt; |</tspan><tspan x="2342" dy="9.15">&lt;Social Valuation Method for Metrics of Well-being&gt; |</tspan><tspan x="2342" dy="9.15">&lt;Economic Valuation Method for Metrics of: &lt;Monetarily Valued Assets:</tspan><tspan x="2342" dy="9.15">“At Cost” | “Depreciated” | “Assessed Current Value”&gt; | &lt;Monetary Cost:</tspan><tspan x="2342" dy="9.15">“Buying” | “Borrowing” | “Using”&gt; | &lt;Monetary Revenue: “Selling” |</tspan><tspan x="2342" dy="9.15">“Lending” | “Licensing” | “Transaction Cut” | “Advertising”&gt; &gt;</tspan><tspan x="2342" dy="9.15">[ Location = &lt;Geographical / Social Location / Area Label&gt; |</tspan><tspan x="2342" dy="9.15">&lt;Geo-spatial / Environmental Location / Area:</tspan><tspan x="2342" dy="9.15">{ &lt;Latitude&gt; “,” &lt;Longitude&gt; “,”</tspan><tspan x="2342" dy="9.15">&lt;Elevation&gt; } &gt; ]</tspan></text></g>
</g>

<g id="nodes" class="n">
<g id="partnership"><rect x="760" y="342" width="127" height="101" fill="url(#nP)"/><text class="nt" x="823" y="398">Partnership</text></g>
<g id="agreement"><rect x="760" y="491" width="127" height="33" fill="url(#nP)"/><text class="nt" x="823" y="513">Agreement</text></g>
<g id="capability"><rect x="814" y="560" width="73" height="32" fill="url(#nP)"/><text class="nt" x="850" y="581">Capability</text></g>
<g id="resource"><rect x="703" y="654" width="129" height="61" fill="url(#nP)"/><text class="nt" x="767" y="690">Resource</text></g>
<g id="activity"><rect x="643" y="860" width="189" height="61" fill="url(#nP)"/><text class="nt" x="737" y="896">Activity</text></g>
<g id="value-configuration"><rect x="814" y="767" width="213" height="29" fill="url(#nP)"/><text class="nt" x="920" y="780">Value</text><text class="nt" x="920" y="794">Configuration</text></g>
<g id="decision"><rect x="1303" y="652" width="66" height="32" fill="url(#nP)"/><text class="nt" x="1336" y="673">Decision</text></g>
<g id="bio-physical-stock"><rect x="169" y="654" width="71" height="33" fill="url(#nP)"/><text class="nt" x="205" y="669">Bio-Physical</text><text class="nt" x="205" y="683">Stock</text></g>
<g id="eco-system-service"><rect x="169" y="885" width="71" height="34" fill="url(#nP)"/><text class="nt" x="205" y="901">Eco-System</text><text class="nt" x="205" y="915">Service</text></g>
<g id="value-proposition"><rect x="1733" y="625" width="66" height="99" fill="url(#nB)"/><text class="nt" x="1766" y="673">Value</text><text class="nt" x="1766" y="687">Proposition</text></g>
<g id="offering"><rect x="1733" y="853" width="66" height="101" fill="url(#nB)"/><text class="nt" x="1766" y="909">Offering</text></g>
<g id="relationship"><rect x="2119" y="341" width="66" height="61" fill="url(#nY)"/><text class="nt" x="2152" y="377">Relationship</text></g>
<g id="function"><rect x="2119" y="461" width="66" height="61" fill="url(#nY)"/><text class="nt" x="2152" y="497">Function</text></g>
<g id="channel"><rect x="2119" y="692" width="66" height="32" fill="url(#nY)"/><text class="nt" x="2152" y="714">Channel</text></g>
<g id="link"><rect x="2119" y="887" width="125" height="33" fill="url(#nY)"/><text class="nt" x="2181" y="909">Link</text></g>
<g id="target-stakeholder"><rect x="2741" y="656" width="66" height="154" fill="url(#nY)"/><text class="nt" x="2774" y="732">Target</text><text class="nt" x="2774" y="746">Stakeholder</text></g>
<g id="criterion"><rect x="2741" y="859" width="66" height="61" fill="url(#nY)"/><text class="nt" x="2774" y="895">Criterion</text></g>
<g id="actor"><rect x="2957" y="656" width="162" height="33" fill="url(#nY)"/><text class="nt" x="3038" y="678">Actor</text></g>
<g id="need"><rect x="2957" y="885" width="162" height="33" fill="url(#nY)"/><text class="nt" x="3038" y="907">Need</text></g>
<g id="firm"><rect x="2957" y="1214" width="102" height="33" fill="#fff"/><text class="nt" x="3008" y="1230">Firm</text><text class="nt" x="3008" y="1244">(aka Organization)</text></g>
<g id="process-metric"><rect x="644" y="1345" width="188" height="33" fill="url(#nG)"/><text class="nt" x="738" y="1368">Process Metric</text></g>
<g id="revenue"><rect x="644" y="1417" width="188" height="33" fill="url(#nG)"/><text class="nt" x="738" y="1439">Revenue</text></g>
<g id="cost"><rect x="644" y="1489" width="188" height="32" fill="url(#nG)"/><text class="nt" x="738" y="1510">Cost</text></g>
<g id="asset"><rect x="644" y="1560" width="188" height="33" fill="url(#nG)"/><text class="nt" x="738" y="1582">Asset</text></g>
<g id="account"><rect x="1301" y="1630" width="66" height="98" fill="url(#nG)"/><text class="nt" x="1334" y="1684">Account</text></g>
<g id="tri-profit"><rect x="1481" y="1630" width="65" height="98" fill="url(#nG)"/><text class="nt" x="1513" y="1684">Tri-Profit</text></g>
<g id="valuation-method"><rect x="2108" y="1630" width="66" height="98" fill="url(#nG)"/><text class="nt" x="2141" y="1678">Valuation</text><text class="nt" x="2141" y="1692">Method</text></g>
</g>

<g id="badges" class="bd">
<rect x="736" y="509" width="16" height="15" fill="#000"/><text x="744" y="520.5" fill="#fff">0,n</text>
<rect x="776" y="534" width="17" height="14" fill="#000"/><text x="784.5" y="545" fill="#fff">0,n</text>
<rect x="1315" y="1517" width="17" height="14" fill="#cc99ff"/><text x="1323.5" y="1528" fill="#111">1,1</text>
<rect x="1360" y="1542" width="17" height="14" fill="#cc99ff"/><text x="1368.5" y="1553" fill="#111">1,1</text>
<rect x="1294" y="1607" width="17" height="14" fill="#cc99ff"/><text x="1302.5" y="1618" fill="#111">1,1</text>
<rect x="1375" y="1652" width="18" height="14" fill="#cc99ff"/><text x="1384" y="1663" fill="#111">1,1</text>
<rect x="2026" y="1361" width="18" height="15" fill="#ddffff"/><text x="2035" y="1372.5" fill="#111">0,n</text>
<rect x="2006" y="1465" width="17" height="16" fill="#ddffff"/><text x="2014.5" y="1477" fill="#111">1,n</text>
<rect x="1980" y="1561" width="18" height="16" fill="#ddffff"/><text x="1989" y="1573" fill="#111">1,n</text>
<rect x="2034" y="1665" width="17" height="15" fill="#ddffff"/><text x="2042.5" y="1676.5" fill="#111">1,n</text>
<rect x="2041" y="1389" width="18" height="16" fill="#ffff99"/><text x="2050" y="1401" fill="#111">0,1</text>
<rect x="2021" y="1494" width="18" height="15" fill="#ffff99"/><text x="2030" y="1505.5" fill="#111">1,1</text>
<rect x="2015" y="1595" width="18" height="15" fill="#ffff99"/><text x="2024" y="1606.5" fill="#111">1,1</text>
<rect x="2066" y="1688" width="17" height="16" fill="#ffff99"/><text x="2074.5" y="1700" fill="#111">1,1</text>
<rect x="2063" y="1432" width="19" height="16" fill="#0000ff"/><text x="2072.5" y="1444" fill="#fff">0,1</text>
<rect x="2128" y="1421" width="18" height="16" fill="#0000ff"/><text x="2137" y="1433" fill="#fff">0,1</text>
<rect x="2169" y="1605" width="18" height="16" fill="#0000ff"/><text x="2178" y="1617" fill="#fff">0,1</text>
</g>

<g id="labels" class="lb">
<text x="735" y="327">Part of</text><text x="786" y="334">1,1</text><text x="749" y="359">0,n</text>
<text x="896" y="350">Furthers</text><text x="896" y="369">0.n</text><text x="896" y="388">0,n</text><text x="896" y="407">Contributes to</text><text x="896" y="428">0,n</text><text x="896" y="447">Concerns</text>
<text x="806" y="463">1,1</text><text x="827" y="463">Consists of</text><text x="806" y="480">0,n</text><text x="827" y="480">Part of</text>
<text x="737" y="503">On</text><text x="896" y="503">Contributes to</text><text x="896" y="522">0,n</text><text x="759" y="545">On</text>
<text x="896" y="570">Provides</text><text x="926" y="590">0,1</text>
<text x="806" y="614">1,n</text><text x="825" y="614">Comprises</text><text x="862" y="628">1,n</text><text x="883" y="628">Contributes to</text><text x="806" y="642">0,n</text><text x="826" y="642">Part of</text>
<text x="710" y="630">Accessible as</text><text x="719" y="642">a result of</text><text x="778" y="642">0,n</text>
<text x="662" y="656">Part of</text><text x="678" y="675">0,n</text><text x="598" y="690">Used in</text><text x="585" y="702">calculation of</text><text x="678" y="702">0,n</text>
<text x="186" y="642">Is a</text><text x="209" y="642">1,1</text><text x="250" y="656">0,n</text><text x="250" y="676">Includes all</text><text x="258" y="687">tangible</text>
<text x="188" y="708">1,n</text><text x="210" y="708">Flows through</text><text x="223" y="720">and/or is</text><text x="208" y="731">Transformed by</text>
<text x="188" y="875">1,n</text><text x="209" y="875">Provided by</text>
<text x="251" y="897">1.n</text><text x="251" y="917">Enables</text>
<text x="727" y="724">0,n</text><text x="699" y="739">0,n</text><text x="750" y="735">1,n</text><text x="770" y="735">Required by</text>
<text x="732" y="757" class="m">Transformed</text><text x="732" y="769" class="m">from / into</text><text x="732" y="781" class="m">and / or</text><text x="732" y="793" class="m">Related to</text>
<text x="593" y="836">Executed as</text><text x="599" y="848">a result of</text><text x="655" y="848">0,n</text>
<text x="727" y="848">Involves</text><text x="770" y="848">1, n</text>
<text x="593" y="887">Requires</text><text x="593" y="899">flow from</text><text x="620" y="919">1,n</text>
<text x="677" y="943">Measured by</text><text x="741" y="943">1,1</text>
<text x="810" y="816">1,n</text><text x="829" y="816">Comprised of</text><text x="810" y="848">1.n</text><text x="829" y="848">Part of</text>
<text x="842" y="866">0,n</text><text x="842" y="884">Involves</text><text x="842" y="909">1,n</text><text x="842" y="929">Makes possible</text><text x="809" y="936">0,n</text><text x="795" y="947">Part of and / or Connected to</text>
<text x="835" y="754">Relies on</text><text x="883" y="754">1,1</text><text x="927" y="742">Depends</text><text x="942" y="754">on</text><text x="975" y="740">1,n</text><text x="1001" y="754">1,n</text><text x="1020" y="742">Results</text><text x="1035" y="754">in</text>
<text x="1037" y="777">Makes possible</text><text x="1037" y="794">1,1</text>
<text x="1262" y="638" class="m">Made through</text><text x="1262" y="652" class="m">participation</text><text x="1262" y="663" class="m">in</text><text x="1279" y="682">0,n</text>
<text x="1379" y="663">Concerns</text><text x="1380" y="682">1,1</text><text x="1319" y="705">0,n</text><text x="1339" y="705">Involve</text>
<text x="841" y="1156">Exists</text><text x="875" y="1156">1,1</text><text x="1330" y="1156">Provides</text><text x="1376" y="1156">1,n</text>

<text x="1721" y="577" class="m">Depends</text><text x="1721" y="589" class="m">on</text><text x="1791" y="600">Enabled</text><text x="1804" y="612">by</text><text x="1748" y="612">0,n</text><text x="1771" y="612">1,n</text>
<text x="1669" y="629">Provided by</text><text x="1708" y="646">0,n</text><text x="1664" y="664">Settled on by</text><text x="1708" y="682">1,n</text>
<text x="1808" y="661">Creates or destroys</text><text x="1835" y="673">value for</text><text x="1808" y="692">1,n</text><text x="1808" y="704">1,n</text><text x="1808" y="723">Delivered via</text>
<text x="1662" y="746">Made possible by</text><text x="1747" y="746">1,n</text><text x="1767" y="746">1,n</text><text x="1786" y="746">Consists of</text>
<text x="1762" y="830">Part</text><text x="1767" y="842">of</text><text x="1786" y="842">0,n</text>
<text x="1669" y="867">Depends on</text><text x="1708" y="886">0,n</text><text x="1708" y="909">1,1</text><text x="1685" y="927">Made</text><text x="1672" y="940">possible by</text>
<text x="1808" y="866">Fulfills</text><text x="1808" y="886">0,n</text><text x="1808" y="899">Delivered via</text><text x="1808" y="918">0,1</text><text x="1808" y="929">Has</text><text x="1808" y="948">0,n</text>
<text x="1710" y="1191">Exists</text><text x="1743" y="1191">1,1</text>

<text x="2046" y="350">Formalized by</text><text x="2096" y="368">1,n</text><text x="2073" y="385">Enables</text><text x="2096" y="404">1,n</text>
<text x="2194" y="366">Maintained with</text><text x="2194" y="385">1,n</text>
<text x="2125" y="422">Have</text><text x="2155" y="422">1,1</text><text x="2138" y="449">Of</text><text x="2155" y="449">1,n</text>
<text x="2046" y="487">Component of</text><text x="2096" y="506">1,1</text>
<text x="2194" y="487">Helps fulfill</text><text x="2195" y="502">1,n</text><text x="2187" y="514">Achieved by</text><text x="2196" y="529">1,1</text>
<text x="2072" y="704">Delivers</text><text x="2095" y="723">1,n</text><text x="2196" y="704">1,n</text><text x="2195" y="723">Delivers</text><text x="2208" y="735">to</text>
<text x="2099" y="746">Consists of</text><text x="2155" y="746">1,n</text>
<text x="2130" y="863">Part</text><text x="2135" y="876">of</text><text x="2155" y="876">0,n</text><text x="2205" y="863">Helps</text><text x="2203" y="876">realize</text><text x="2239" y="876">0,n</text>
<text x="2092" y="899">Is a</text><text x="2094" y="918">0,n</text>
<text x="2254" y="899">Meets</text><text x="2254" y="918">1,1</text><text x="2258" y="929">Connects</text><text x="2278" y="942">to</text><text x="2212" y="929">0,n</text>
<text x="2074" y="941">Provided by</text><text x="2134" y="941">0,n</text><text x="2150" y="941">0,n</text><text x="2170" y="941">Has</text>
<text x="2753" y="644">Has</text><text x="2777" y="644">1,n</text>
<text x="2690" y="673">Recieves</text><text x="2724" y="692">1,n</text><text x="2709" y="704">Uses</text><text x="2724" y="723">1,n</text><text x="2682" y="743">Allowed to</text><text x="2681" y="756">take part in</text><text x="2724" y="774">1,n</text><text x="2669" y="795">Participates in</text><text x="2724" y="814">0,n</text>
<text x="2823" y="656">Is a</text><text x="2817" y="668">role of</text><text x="2817" y="686">0,n</text><text x="2817" y="794">Of</text><text x="2817" y="814">2,n</text>
<text x="2757" y="832">1,1</text><text x="2777" y="832">Defined by</text><text x="2757" y="848">0,n</text><text x="2777" y="848">Aspect of</text>
<text x="2693" y="867">Matches</text><text x="2724" y="886">1,n</text><text x="2657" y="899">Selects  relevant</text><text x="2724" y="918">1,n</text>
<text x="2817" y="897">Match</text><text x="2817" y="916">0,n</text>
<text x="2890" y="873">Defines one</text><text x="2886" y="885">characteristic</text><text x="2912" y="897">of</text><text x="2934" y="916">1,n</text>
<text x="2988" y="862">Is required</text><text x="3006" y="874">by</text><text x="3042" y="874">1,n</text>
<text x="2895" y="656">Takes on a</text><text x="2906" y="668">role as</text><text x="2933" y="686">1,1</text>
<text x="3021" y="644">0,1</text><text x="3042" y="644">Is a</text>
<text x="3128" y="669">Is a</text><text x="3130" y="687">1,1</text>
<text x="3006" y="710">Has a</text><text x="3008" y="722">set of</text><text x="3042" y="710">0,n</text><text x="3056" y="703">0,n</text><text x="3091" y="704">1,1</text><text x="3068" y="726">Represents</text>
<text x="2415" y="1151">Exists</text><text x="2448" y="1151">1,1</text>
<text x="2958" y="1193">Is created</text><text x="2975" y="1205">by</text><text x="3012" y="1201">1,n</text>
<text x="2938" y="1227">Has</text><text x="2933" y="1244">1,1</text><text x="3070" y="1227">Is a</text><text x="3070" y="1244">0,1</text>
<text x="3027" y="1260">0,n</text><text x="3058" y="1261">1,1</text>
<text x="3025" y="1279" class="m">Has</text><text x="3025" y="1292" class="m">Relations</text><text x="3025" y="1304" class="m">with</text>

<text x="1389" y="1252">1,1</text><text x="1410" y="1252">Exists</text>
<text x="690" y="1333">Measures</text><text x="741" y="1333">0,n</text>
<text x="588" y="1357">Concerns</text><text x="619" y="1375">0,n</text>
<text x="842" y="1356">Measured using and/or Inputs to</text><text x="1131" y="1356">0,n</text>
<text x="842" y="1417">Measured using and/or Inputs to</text><text x="1120" y="1417">0,n</text>
<text x="1448" y="1448">n,n</text><text x="1484" y="1447">'Sums-up'</text>
<text x="842" y="1459">Categorized using</text><text x="942" y="1459">1,1</text>
<text x="842" y="1488">Measured using and/or Inputs to</text><text x="1100" y="1488">0,n</text>
<text x="1415" y="1517">n,n</text><text x="1448" y="1516">'Sums-up'</text>
<text x="842" y="1531">Categorized using</text><text x="938" y="1531">1,1</text>
<text x="1269" y="1529">Tracks</text><text x="1362" y="1537">Tracks</text>
<text x="842" y="1561">Measured using and/or Inputs to</text><text x="1093" y="1561">0,n</text>
<text x="842" y="1602">Categorized using</text><text x="934" y="1602">1,1</text>
<text x="1279" y="1599">Tracks</text>
<text x="1377" y="1644">Tracks</text><text x="1444" y="1632" class="m">Categorized</text><text x="1443" y="1644" class="m">using</text><text x="1458" y="1663">1,1</text>
<text x="1270" y="1717">1,1</text><text x="1312" y="1750">0,n</text><text x="1283" y="1763">Groups</text>
<text x="1937" y="1374">Requires as input</text><text x="1943" y="1402">Produces as output</text><text x="2009" y="1444">Concerns</text><text x="2115" y="1408">Concerns</text>
<text x="1950" y="1498">Requires as</text><text x="1966" y="1510">input</text><text x="1965" y="1529">Produces as</text><text x="1978" y="1541">output</text>
<text x="1930" y="1585">Requires</text><text x="1933" y="1597">as input</text><text x="1942" y="1610">Produces as</text><text x="1955" y="1623">output</text>
<text x="1956" y="1696">Requires as input</text><text x="1972" y="1713">Produces as output</text>
<text x="2170" y="1585">Concerns</text>
</g>
</svg>
